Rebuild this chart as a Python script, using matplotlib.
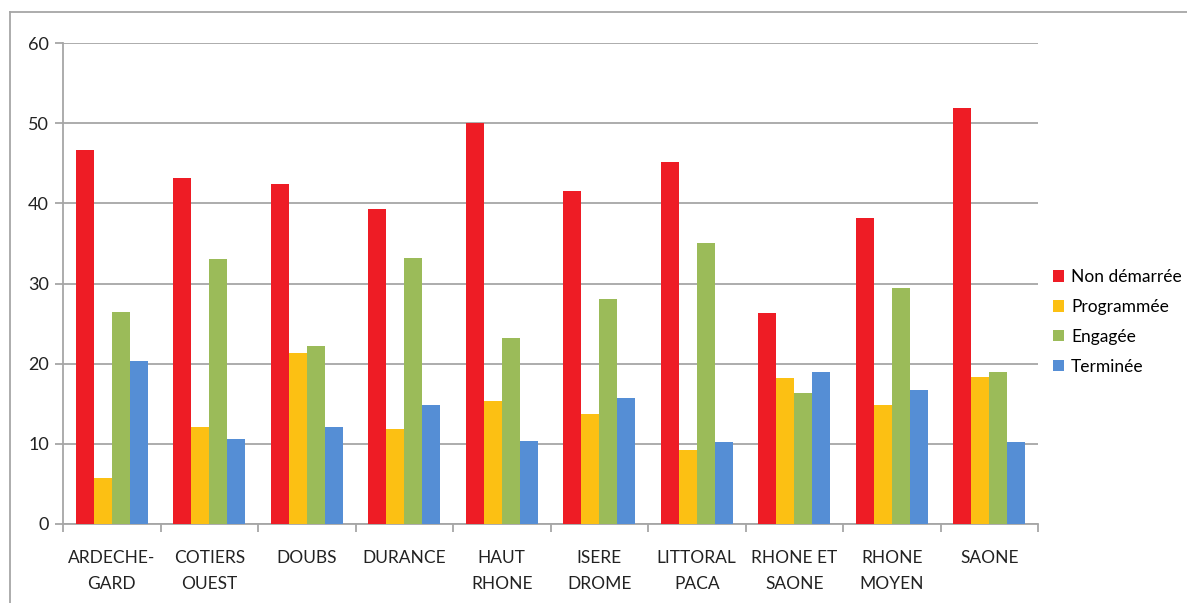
import numpy as np
import matplotlib.pyplot as plt
from matplotlib.lines import Line2D
from matplotlib.patches import Patch

categories = ["ARDECHE-\nGARD", "COTIERS\nOUEST", "DOUBS", "DURANCE", "HAUT\nRHONE",
              "ISERE\nDROME", "LITTORAL\nPACA", "RHONE ET\nSAONE", "RHONE\nMOYEN", "SAONE"]
series_names = ["Non démarrée", "Programmée", "Engagée", "Terminée"]
non_demarree = [46.7, 43.1, 42.4, 39.3, 50.0, 41.6, 45.2, 26.3, 38.2, 51.9]
programmee = [5.7, 12.1, 21.3, 11.8, 15.3, 13.7, 9.2, 18.2, 14.8, 18.3]
engagee = [26.4, 33.1, 22.2, 33.2, 23.2, 28.1, 35.0, 16.4, 29.4, 18.9]
terminee = [20.3, 10.6, 12.1, 14.8, 10.3, 15.7, 10.2, 19.0, 16.7, 10.2]
colors = ["#EE1C25", "#FCC013", "#9BBB59", "#558ED5"]

plt.rcParams['font.family'] = ['Lato', 'DejaVu Sans']
grey = "#A6A6A6"

fig = plt.figure(figsize=(11.87, 6.03), dpi=100)
ax = fig.add_axes([63 / 1187, 1 - 524 / 603, 975 / 1187, 481 / 603])

x = np.arange(len(categories))
w = 0.185
for i, vals in enumerate([non_demarree, programmee, engagee, terminee]):
    ax.bar(x + (i - 1.5) * w, vals, width=w, color=colors[i], zorder=3)

ax.set_xlim(-0.5, len(categories) - 0.5)
ax.set_ylim(0, 60)
ax.set_yticks(range(0, 61, 10))
ax.yaxis.grid(True, color=grey, linewidth=1.3, zorder=0)
ax.set_axisbelow(True)

ax.set_xticks(x)
ax.set_xticklabels(categories, fontsize=12.5, color="#222222", linespacing=1.75)
ax.set_xticks(np.arange(-0.5, len(categories), 1), minor=True)
ax.tick_params(axis='x', which='major', length=0, pad=19)
ax.tick_params(axis='x', which='minor', length=6, color=grey, width=1.3)
ax.tick_params(axis='y', length=6, width=1.3, labelsize=13, pad=4)
ax.tick_params(axis='y', colors=grey, labelcolor="#222222")

for s in ['top', 'right']:
    ax.spines[s].set_visible(False)
for s in ['left', 'bottom']:
    ax.spines[s].set_color(grey)
    ax.spines[s].set_linewidth(1.3)

handles = [Patch(facecolor=c, edgecolor='none') for c in colors]
fig.legend(handles, series_names, loc='upper left', bbox_to_anchor=(1046 / 1187, 1 - 262 / 603),
           frameon=False, fontsize=12.5, handlelength=0.65, handleheight=0.65,
           handletextpad=0.4, labelspacing=0.8, borderaxespad=0)

# outer chart border
fig.add_artist(Line2D([10 / 1187, 10 / 1187], [0, 1 - 12 / 603], transform=fig.transFigure,
                      color=grey, linewidth=1.3))
fig.add_artist(Line2D([10 / 1187, 1], [1 - 12 / 603, 1 - 12 / 603], transform=fig.transFigure,
                      color=grey, linewidth=1.3))

fig.savefig("out.png", dpi=100)
